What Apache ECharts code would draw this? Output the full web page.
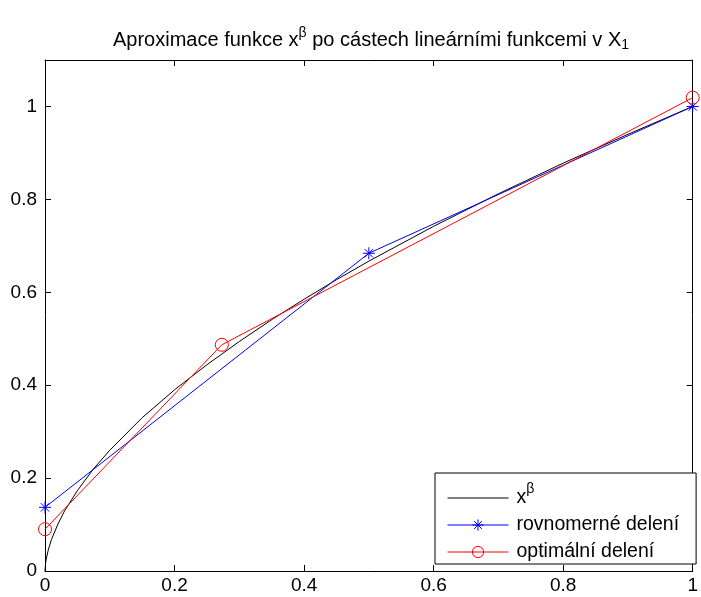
<!DOCTYPE html>
<html>
<head>
<meta charset="utf-8">
<script src="https://cdn.jsdelivr.net/npm/echarts@6/dist/echarts.min.js"></script>
<style>html,body{margin:0;padding:0;background:#fff}#c{width:701px;height:597px}</style>
</head>
<body>
<div id="c"></div>
<script>
// black curve x^beta
const curveX = [0, 0.001, 0.002, 0.005, 0.01, 0.02, 0.03, 0.05, 0.075, 0.1, 0.15, 0.2, 0.25, 0.3, 0.35, 0.4, 0.45, 0.5, 0.6, 0.7, 0.8, 0.9, 1.0];
const curveY = [0, 0.018, 0.026, 0.045, 0.068, 0.101, 0.129, 0.173, 0.220, 0.260, 0.330, 0.390, 0.444, 0.494, 0.541, 0.585, 0.627, 0.667, 0.742, 0.812, 0.878, 0.940, 1.0];
// uniform partition
const uniX = [0, 0.5, 1];
const uniY = [0.137, 0.684, 1.0];
// optimal partition
const optX = [0, 0.273, 1];
const optY = [0.09, 0.487, 1.019];
const xTicks = [0, 0.2, 0.4, 0.6, 0.8, 1];
const yTicks = [0, 0.2, 0.4, 0.6, 0.8, 1];
const names = ['xb', 'rovnomerné delení', 'optimální delení'];

const zip = (a, b) => a.map((v, i) => [v, b[i]]);
const FONT = 'Liberation Sans, Arial, Helvetica, sans-serif';
const fmt = v => {
  const r = Math.round(v * 10) / 10;
  return (Math.abs(v - r) < 1e-6 && yTicks.some(t => Math.abs(t - r) < 1e-6)) ? String(r) : '';
};
const star = 'path://M0,-10L0,10M-10,0L10,0M-7,-7L7,7M-7,7L7,-7';

const chart = echarts.init(document.getElementById('c'), null, {renderer: 'canvas'});
function ax(extra) {
  return Object.assign({
    type: 'value', min: 0, max: 1, interval: 0.2,
    splitLine: {show: false},
    axisLine: {show: true, onZero: false, lineStyle: {color: '#000', width: 1}},
    axisTick: {show: true, inside: true, length: 6, lineStyle: {color: '#000', width: 1}},
    axisLabel: {show: false}
  }, extra);
}
const lbl = {show: true, color: '#000', fontFamily: FONT, fontSize: 19, formatter: fmt};
chart.setOption({
  animation: false,
  backgroundColor: '#fff',
  grid: {left: 45, right: 5, top: 60, bottom: 26, show: false},
  xAxis: [
    ax({position: 'bottom', axisLabel: Object.assign({}, lbl, {margin: 5})}),
    ax({position: 'top'})
  ],
  yAxis: [
    ax({max: 1.1, position: 'left', axisLabel: Object.assign({}, lbl, {margin: 8})}),
    ax({max: 1.1, position: 'right'})
  ],
  legend: {
    orient: 'vertical', left: 435, top: 473,
    padding: [9, 17, 2, 12],
    itemWidth: 61, itemHeight: 14, itemGap: 7,
    backgroundColor: '#fff', borderColor: '#000', borderWidth: 1,
    lineStyle: {width: 1},
    data: [
      {name: names[0], itemStyle: {color: 'rgba(0,0,0,0)', borderColor: 'rgba(0,0,0,0)', borderWidth: 0}},
      {name: names[1], itemStyle: {color: 'rgba(0,0,0,0)', borderColor: '#0000ff', borderWidth: 1}},
      {name: names[2], itemStyle: {color: 'rgba(0,0,0,0)', borderColor: '#ff0000', borderWidth: 1}}
    ],
    formatter: n => n === 'xb' ? 'x{sup|β}' : n,
    textStyle: {color: '#000', fontFamily: FONT, fontSize: 19.5, lineHeight: 20, padding: [0, 0, 0, 3],
      rich: {sup: {fontFamily: FONT, fontSize: 14, lineHeight: 20, verticalAlign: 'bottom', padding: [0, 0, 12, 0]}}}
  },
  graphic: [{
    type: 'text', x: 371, y: 40, z: 10,
    style: {
      text: 'Aproximace funkce x{sup|β} po cástech lineárními funkcemi v X{sub|1}',
      align: 'center', verticalAlign: 'middle', fill: '#000', fontFamily: FONT, fontSize: 20,
      rich: {
        sup: {fontFamily: FONT, fontSize: 14, verticalAlign: 'bottom', padding: [0, 0, 13, 0], fill: '#000'},
        sub: {fontFamily: FONT, fontSize: 14, verticalAlign: 'top', padding: [12, 0, 0, 0], fill: '#000'}
      }
    }
  }],
  series: [
    {name: names[0], type: 'line', data: zip(curveX, curveY), showSymbol: false, symbol: 'none',
     lineStyle: {color: '#000', width: 1}, itemStyle: {color: '#000'}, clip: false},
    {name: names[1], type: 'line', data: zip(uniX, uniY), symbol: star, symbolSize: 12,
     lineStyle: {color: '#0000ff', width: 1},
     itemStyle: {color: 'rgba(0,0,0,0)', borderColor: '#0000ff', borderWidth: 1}, clip: false},
    {name: names[2], type: 'line', data: zip(optX, optY), symbol: 'circle', symbolSize: 13,
     lineStyle: {color: '#ff0000', width: 1},
     itemStyle: {color: 'rgba(0,0,0,0)', borderColor: '#ff0000', borderWidth: 1}, clip: false}
  ]
});
</script>
</body>
</html>
